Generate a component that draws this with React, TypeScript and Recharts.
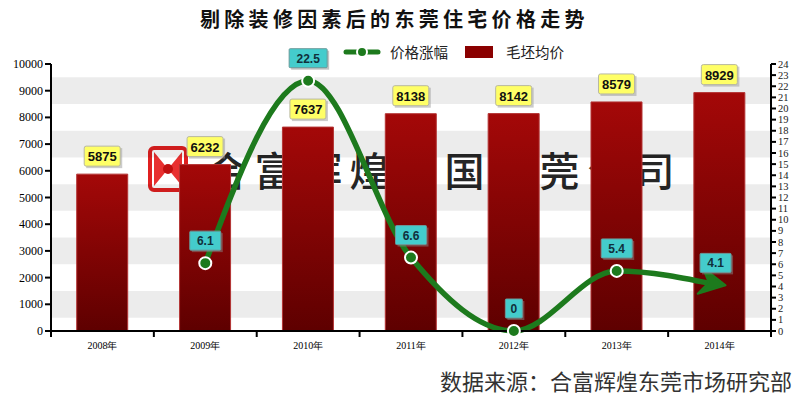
import React from 'react'
import { ComposedChart, Bar, Line, XAxis, YAxis, ReferenceArea, LabelList } from 'recharts'

const years = ['2008年', '2009年', '2010年', '2011年', '2012年', '2013年', '2014年']
const avgPrice = [5875, 6232, 7637, 8138, 8142, 8579, 8929]
const priceRise: (number | null)[] = [null, 6.1, 22.5, 6.6, 0, 5.4, 4.1]
const leftTicks = [0, 1000, 2000, 3000, 4000, 5000, 6000, 7000, 8000, 9000, 10000]
const rightTicks = [0, 1, 2, 3, 4, 5, 6, 7, 8, 9, 10, 11, 12, 13, 14, 15, 16, 17, 18, 19, 20, 21, 22, 23, 24]
const stripes = [[500, 1500], [2500, 3500], [4500, 5500], [6500, 7500], [8500, 9500]]

const data = years.map((year, i) => ({ year, price: avgPrice[i], rise: priceRise[i] }))

const GREEN = '#1d7a1d'
const SERIF = '"Liberation Serif", "DejaVu Serif", serif'
const CJK = '"Noto Sans CJK SC", sans-serif'

const XTick = (props: any) => {
  const { x, y, payload, index } = props
  const half = payload?.offset || 720 / 14
  return (
    <g>
      <line x1={x - half} y1={y - 1} x2={x - half} y2={y + 6} stroke="#000" strokeWidth={2} />
      {index === years.length - 1 && (
        <line x1={x + half} y1={y - 1} x2={x + half} y2={y + 6} stroke="#000" strokeWidth={2} />
      )}
      <text x={x} y={y + 18} textAnchor="middle" fontSize={10} fontFamily={SERIF} fill="#000">
        {payload.value}
      </text>
    </g>
  )
}

const LeftTick = (props: any) => {
  const { x, y, payload } = props
  return (
    <text x={x} y={y + 4} textAnchor="end" fontSize={12} fontFamily={SERIF} fill="#000">
      {payload.value}
    </text>
  )
}

const RightTick = (props: any) => {
  const { x, y, payload } = props
  return (
    <text x={x} y={y + 3.5} textAnchor="start" fontSize={10.5} fontFamily={SERIF} fill="#222">
      {payload.value}
    </text>
  )
}

const BarLabel = (props: any) => {
  const { x, y, width, value } = props
  const cx = x + width / 2
  const w = 36
  return (
    <g>
      <rect x={cx - w / 2 + 2} y={y - 26} width={w} height={20} fill="#999" opacity={0.5} />
      <rect x={cx - w / 2} y={y - 28} width={w} height={20} fill="#ffff66" stroke="#b8b8a0" strokeWidth={1} rx={2} />
      <text x={cx} y={y - 13} textAnchor="middle" fontSize={13} fontWeight="bold" fontFamily="Arial, sans-serif" fill="#111">
        {value}
      </text>
    </g>
  )
}

const RiseLabel = (props: any) => {
  const { x, y, value, index } = props
  if (value == null || x == null || y == null) return null
  const text = String(value)
  const w = text.length * 7 + 10
  const cx = index === years.length - 1 ? x - 4 : x
  const cy = y - 22
  return (
    <g>
      <rect x={cx - w / 2 + 2} y={cy - 8} width={w} height={19} fill="#888" opacity={0.5} />
      <rect x={cx - w / 2} y={cy - 10} width={w} height={19} fill="#44cccc" stroke="#6a9a9a" strokeWidth={1} rx={1} />
      <text x={cx} y={cy + 4} textAnchor="middle" fontSize={12} fontWeight="bold" fontFamily="Arial, sans-serif" fill="#10303c">
        {text}
      </text>
    </g>
  )
}

const RiseDot = (props: any) => {
  const { cx, cy, index, value } = props
  if (cx == null || cy == null || value == null) return null
  if (index === years.length - 1) {
    return (
      <g transform={`translate(${cx + 6}, ${cy}) rotate(10)`}>
        <polygon points="0,0 -26,-14 -17,0 -26,13" fill={GREEN} stroke={GREEN} strokeWidth={2} strokeLinejoin="round" />
      </g>
    )
  }
  return <circle cx={cx} cy={cy} r={6} fill={GREEN} stroke="#fff" strokeWidth={2} />
}

const App = () => {
  return (
    <div style={{ position: 'absolute', left: 0, top: 0, width: 800, height: 398, background: '#fff' }}>
      <svg width={800} height={398} style={{ position: 'absolute', left: 0, top: 0 }}>
        <g transform="translate(150, 148)">
          <rect x={0} y={0} width={36} height={42} rx={4} fill="#fff" stroke="#e02020" strokeWidth={4} />
          <polygon points="4,4 18,21 4,38" fill="#e83030" />
          <polygon points="32,4 18,21 32,38" fill="#e83030" />
          <circle cx={18} cy={21} r={5} fill="#c01010" />
        </g>
        <text x={207} y={186} fontSize={40} letterSpacing={7.5} fontFamily={CJK} fontWeight={500} fill="#262626">
          合富辉煌中国东莞公司
        </text>
      </svg>
      <div style={{ position: 'absolute', left: 0, top: 0 }}>
        <ComposedChart width={800} height={398} data={data} margin={{ top: 64, right: 0, left: 0, bottom: 47 }} barCategoryGap="25%">
          <defs>
            <linearGradient id="barGrad" x1="0" y1="0" x2="0" y2="1">
              <stop offset="0%" stopColor="#a40808" />
              <stop offset="100%" stopColor="#5e0000" />
            </linearGradient>
          </defs>
          {stripes.map(([a, b]) => (
            <ReferenceArea key={a} yAxisId="left" y1={a} y2={b} fill="#000" fillOpacity={0.075} stroke="none" />
          ))}
          <XAxis
            dataKey="year"
            height={20}
            tickSize={0}
            tickMargin={0}
            tickLine={false}
            tick={<XTick />}
            axisLine={{ stroke: '#000', strokeWidth: 2 }}
            interval={0}
          />
          <YAxis
            yAxisId="left"
            width={51}
            domain={[0, 10000]}
            ticks={leftTicks}
            interval={0}
            tickSize={6}
            tickMargin={2}
            axisLine={{ stroke: '#000', strokeWidth: 2 }}
            tickLine={{ stroke: '#000', strokeWidth: 2 }}
            tick={<LeftTick />}
          />
          <YAxis
            yAxisId="right"
            orientation="right"
            width={29}
            domain={[0, 24]}
            ticks={rightTicks}
            interval={0}
            tickSize={5}
            tickMargin={2}
            axisLine={{ stroke: '#000', strokeWidth: 2 }}
            tickLine={{ stroke: '#000', strokeWidth: 2 }}
            tick={<RightTick />}
          />
          <Bar yAxisId="left" dataKey="price" fill="url(#barGrad)" stroke="#b43434" strokeWidth={1} isAnimationActive={false}>
            <LabelList dataKey="price" content={BarLabel} />
          </Bar>
          <Line
            yAxisId="right"
            type="monotone"
            dataKey="rise"
            stroke={GREEN}
            strokeWidth={5.5}
            dot={RiseDot}
            activeDot={false}
            isAnimationActive={false}
          >
            <LabelList dataKey="rise" content={RiseLabel} />
          </Line>
        </ComposedChart>
      </div>
      <svg width={800} height={398} style={{ position: 'absolute', left: 0, top: 0, pointerEvents: 'none' }}>
        <text x={200} y={27} fontSize={20} fontWeight="bold" letterSpacing={4.3} fontFamily={CJK} fill="#111">
          剔除装修因素后的东莞住宅价格走势
        </text>
        <line x1={346} y1={52} x2={378} y2={52} stroke={GREEN} strokeWidth={5} strokeLinecap="round" />
        <circle cx={362} cy={52} r={5} fill={GREEN} stroke="#fff" strokeWidth={2} />
        <text x={390} y={57.5} fontSize={14.5} fontFamily={CJK} fill="#222">价格涨幅</text>
        <rect x={465} y={46} width={28} height={12} fill="#8a0000" />
        <text x={506} y={57.5} fontSize={14.5} fontFamily={CJK} fill="#222">毛坯均价</text>
        <text x={440} y={390} fontSize={22} fontFamily={CJK} fill="#333">数据来源：合富辉煌东莞市场研究部</text>
      </svg>
    </div>
  )
}

export default App
